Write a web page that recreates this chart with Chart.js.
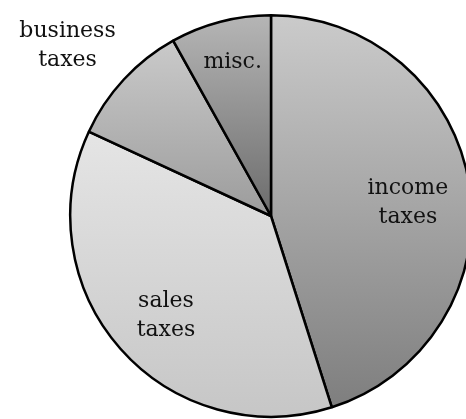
<!DOCTYPE html>
<html>
<head>
<meta charset="utf-8">
<script src="https://cdn.jsdelivr.net/npm/chart.js@4"></script>
<style>
  html, body { margin: 0; padding: 0; background: #ffffff; overflow: hidden; }
  #wrap { position: relative; width: 480px; height: 419px; }
</style>
</head>
<body>
<div id="wrap"><canvas id="c"></canvas></div>
<script>
// Data
const categories = ["income taxes", "sales taxes", "business taxes", "misc."];
const shares = [45.1, 36.8, 10.0, 8.1];
// Label text lines per category
const labelLines = [["income", "taxes"], ["sales", "taxes"], ["business", "taxes"], ["misc."]];
// Gradient colours per slice (top, bottom)
const topColors = ["#cbcbcb", "#e5e5e5", "#cacaca", "#b6b6b6"];
const bottomColors = ["#7e7e7e", "#c6c6c6", "#9c9c9c", "#6c6c6c"];
// Label placement: fraction of radius, angular offset from slice middle (degrees)
const labelRadius = [0.685, 0.72, 1.32, 0.79];
const labelAngleShift = [3.4, -2, -3, 0.6];

function sectorYRange(cy, r, a0, a1) {
  const ys = [cy, cy + r * Math.sin(a0), cy + r * Math.sin(a1)];
  [Math.PI / 2, -Math.PI / 2, 3 * Math.PI / 2, -3 * Math.PI / 2].forEach(a => {
    if (a >= a0 && a <= a1) ys.push(cy + r * Math.sin(a));
  });
  return [Math.min(...ys), Math.max(...ys)];
}

function sliceAngles(i) {
  const total = shares.reduce((a, b) => a + b, 0);
  let start = -Math.PI / 2;
  for (let k = 0; k < i; k++) start += shares[k] / total * Math.PI * 2;
  const end = start + shares[i] / total * Math.PI * 2;
  return [start, end];
}

function bg(ctx) {
  const chart = ctx.chart;
  const area = chart.chartArea;
  if (!area) return topColors[ctx.dataIndex];
  const r = Math.min(area.right - area.left, area.bottom - area.top) / 2;
  const cy = (area.top + area.bottom) / 2;
  const [a0, a1] = sliceAngles(ctx.dataIndex);
  const [y0, y1] = sectorYRange(cy, r, a0, a1);
  const g = chart.ctx.createLinearGradient(0, y0, 0, y1);
  g.addColorStop(0, topColors[ctx.dataIndex]);
  g.addColorStop(1, bottomColors[ctx.dataIndex]);
  return g;
}

const labelPlugin = {
  id: 'sliceLabels',
  afterDatasetsDraw(chart) {
    const meta = chart.getDatasetMeta(0);
    const c = chart.ctx;
    c.save();
    c.font = '22px "DejaVu Serif"';
    c.fillStyle = '#111111';
    c.textAlign = 'center';
    c.textBaseline = 'middle';
    meta.data.forEach((arc, i) => {
      const p = arc.getProps(['x', 'y', 'startAngle', 'endAngle', 'outerRadius'], true);
      const mid = (p.startAngle + p.endAngle) / 2 + labelAngleShift[i] * Math.PI / 180;
      const rr = p.outerRadius * labelRadius[i];
      const x = p.x + rr * Math.cos(mid);
      const y = p.y + rr * Math.sin(mid);
      const lines = labelLines[i];
      const lh = 29;
      lines.forEach((t, j) => {
        c.fillText(t, x, y + (j - (lines.length - 1) / 2) * lh);
      });
    });
    c.restore();
  }
};

new Chart(document.getElementById('c'), {
  type: 'pie',
  data: {
    labels: categories,
    datasets: [{
      data: shares,
      backgroundColor: bg,
      borderColor: '#000000',
      borderWidth: 2.5,
      hoverOffset: 0
    }]
  },
  options: {
    responsive: true,
    maintainAspectRatio: false,
    animation: false,
    layout: { padding: { left: 69, right: 7, top: 14, bottom: 1 } },
    plugins: {
      legend: { display: false },
      tooltip: { enabled: false }
    }
  },
  plugins: [labelPlugin]
});
</script>
</body>
</html>
